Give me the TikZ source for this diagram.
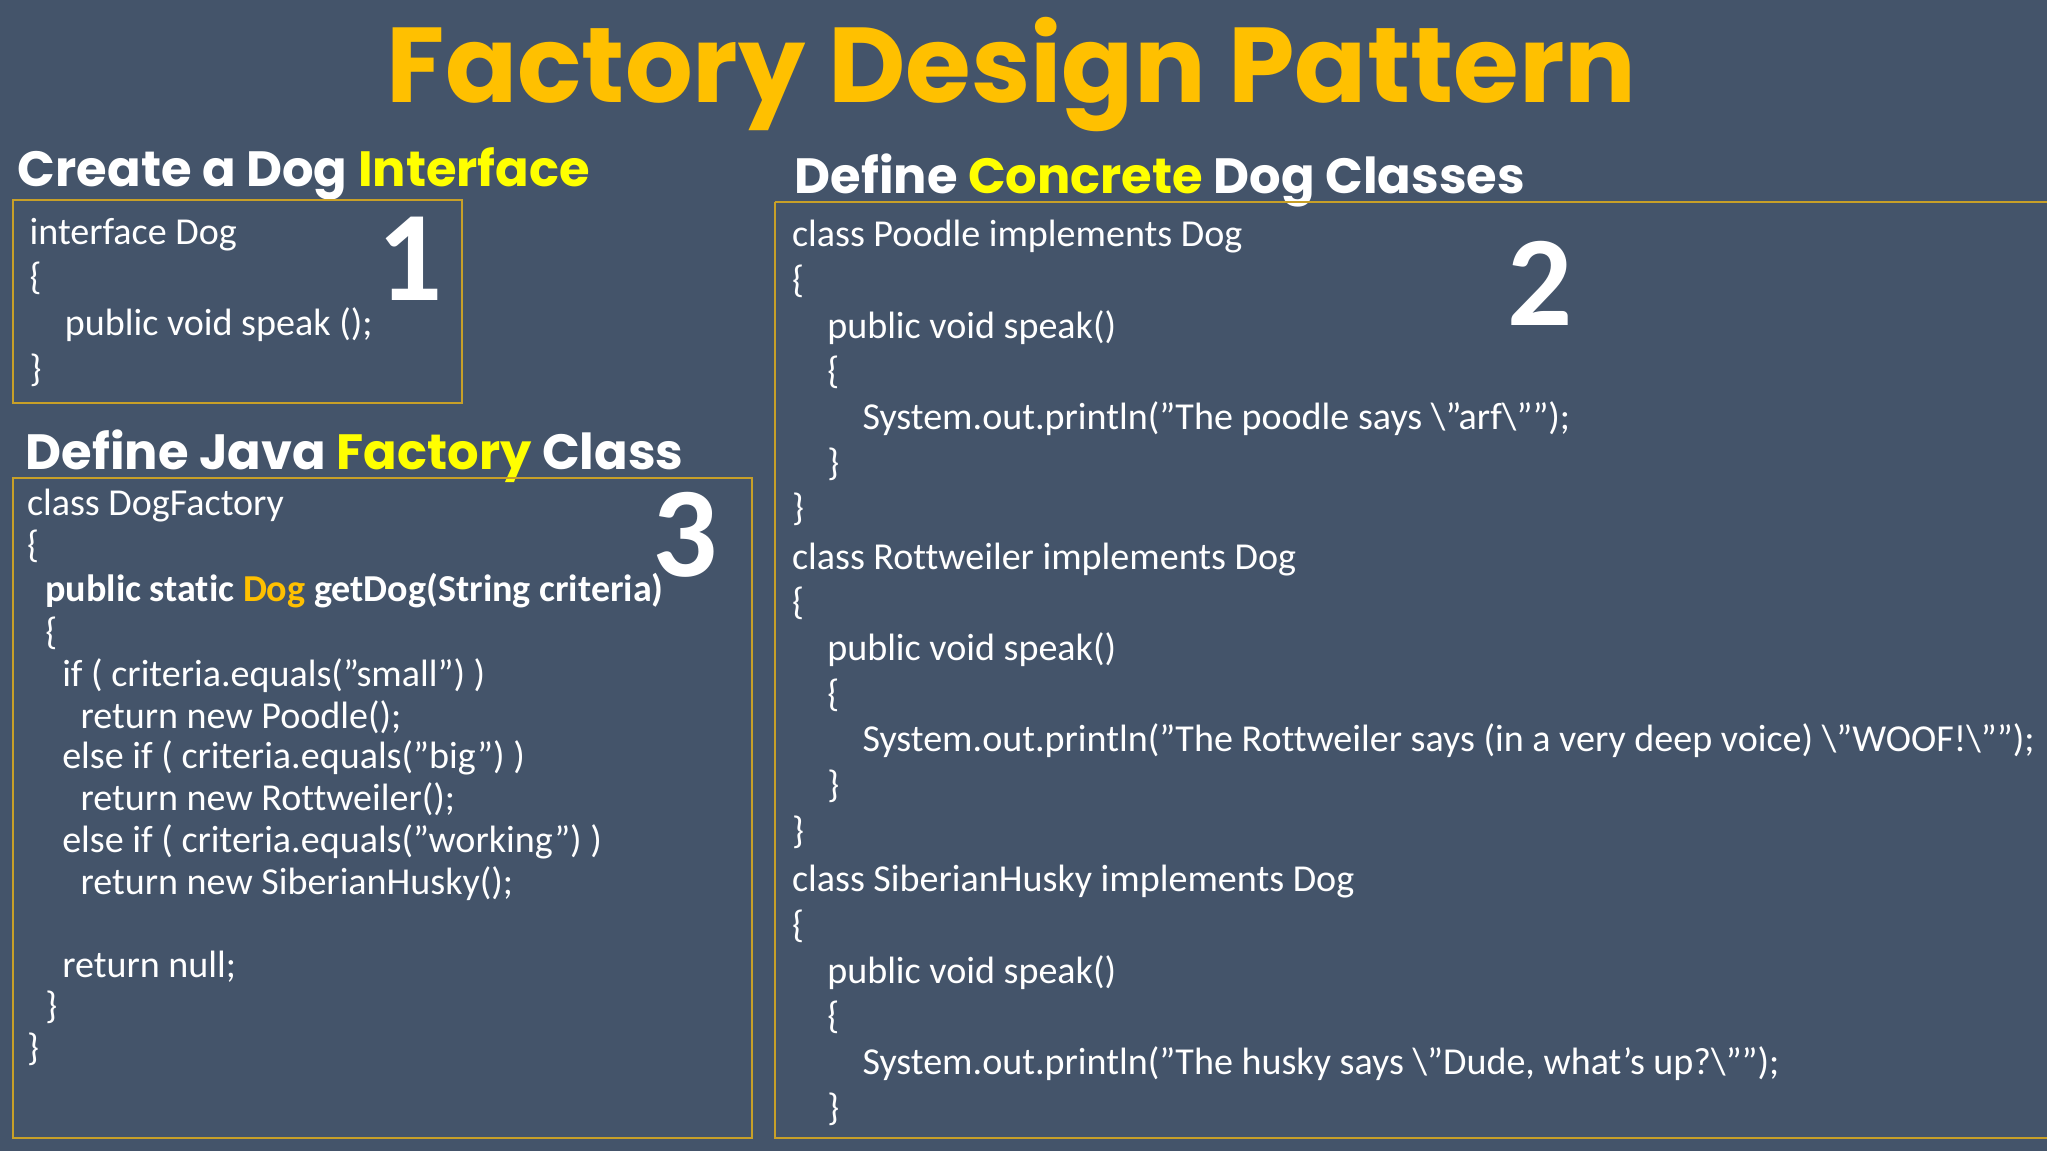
\documentclass[tikz,border=0pt]{standalone}
\usepackage{fontspec}
\setmainfont{Carlito}[Ligatures=NoCommon]
\newfontfamily\pop{Poppins}
\definecolor{bg}{RGB}{68,84,106}
\definecolor{gold}{RGB}{255,192,0}
\definecolor{ylw}{RGB}{255,255,0}
\definecolor{bord}{RGB}{200,160,40}
\newcommand{\bs}{\textbackslash}
\newcommand{\q}{\symbol{34}}
\newcommand{\ap}{\symbol{39}}
\tikzset{
 code/.style={anchor=base west,inner sep=0pt,text=white,font=\fontsize{8.3}{9}\selectfont},
 head/.style={anchor=base west,inner sep=0pt,text=white,font=\pop\bfseries\fontsize{10.8}{13}\selectfont},
 num/.style={anchor=center,inner sep=0pt,text=white,font=\bfseries\fontsize{28}{30}\selectfont},
 box/.style={draw=bord,line width=0.45pt}
}
\begin{document}
\begin{tikzpicture}[x=0.1mm,y=-0.1mm]
\fill[bg] (0,0) rectangle (1568,882);
\node[anchor=center,inner sep=0pt,text=gold,font=\pop\bfseries\fontsize{23.2}{26}\selectfont] (title) at (775,57) {Factory Design Pattern};
% headings
\node[head] (h1) at (13,143) {Create a Dog \textcolor{ylw}{Interface}};
\node[head] (h3) at (19,360) {Define Java \textcolor{ylw}{Factory} Class};
\node[head] (h2) at (608,148) {Define \textcolor{ylw}{Concrete} Dog Classes};
% boxes
\draw[box] (10,153) rectangle (354,309);
\draw[box] (10,366) rectangle (576,872);
\draw[box] (594,155) -- (1568,155) (594,155) -- (594,872) -- (1568,872);
\node[num] (n1) at (314,198) {1};
\node[num] (n2) at (1180,217) {2};
\node[num] (n3) at (525,410) {3};
% box 1
\node[code] (a1) at (22,187) {interface Dog};
\node[code] (a2) at (22,222) {\{};
\node[code] (a3) at (49,257) {public void speak ();};
\node[code] (a4) at (22,292) {\}};
% box 2
\foreach \y/\x/\t [count=\i] in {
 189/606/{class Poodle implements Dog},
 224/606/{\{},
 259/633/{public void speak()},
 294/633/{\{},
 329/660/{System.out.println(\q The poodle says \bs\q arf\bs\q\q);},
 364/633/{\}},
 399/606/{\}},
 436/606/{class Rottweiler implements Dog},
 471/606/{\{},
 506/633/{public void speak()},
 541/633/{\{},
 576/660/{System.out.println(\q The Rottweiler says (in a very deep voice) \bs\q WOOF!\bs\q\q);},
 611/633/{\}},
 646/606/{\}},
 683/606/{class SiberianHusky implements Dog},
 718/606/{\{},
 753/633/{public void speak()},
 788/633/{\{},
 823/660/{System.out.println(\q The husky says \bs\q Dude, what\ap s up?\bs\q\q);},
 858/633/{\}}}
 \node[code] (b\i) at (\x,\y) {\t};
% box 3
\foreach \y/\x/\t [count=\i] in {
 395/20/{class DogFactory},
 427/20/{\{},
 461/34/{\textbf{public static \textcolor{gold}{Dog} getDog(String criteria)}},
 494/34/{\{},
 526/47/{if ( criteria.equals(\q small\q) )},
 558/61/{return new Poodle();},
 589/47/{else if ( criteria.equals(\q big\q) )},
 621/61/{return new Rottweiler();},
 653/47/{else if ( criteria.equals(\q working\q) )},
 685/61/{return new SiberianHusky();},
 749/47/{return null;},
 780/34/{\}},
 812/20/{\}}}
 \node[code] (c\i) at (\x,\y) {\t};
\end{tikzpicture}
\end{document}
